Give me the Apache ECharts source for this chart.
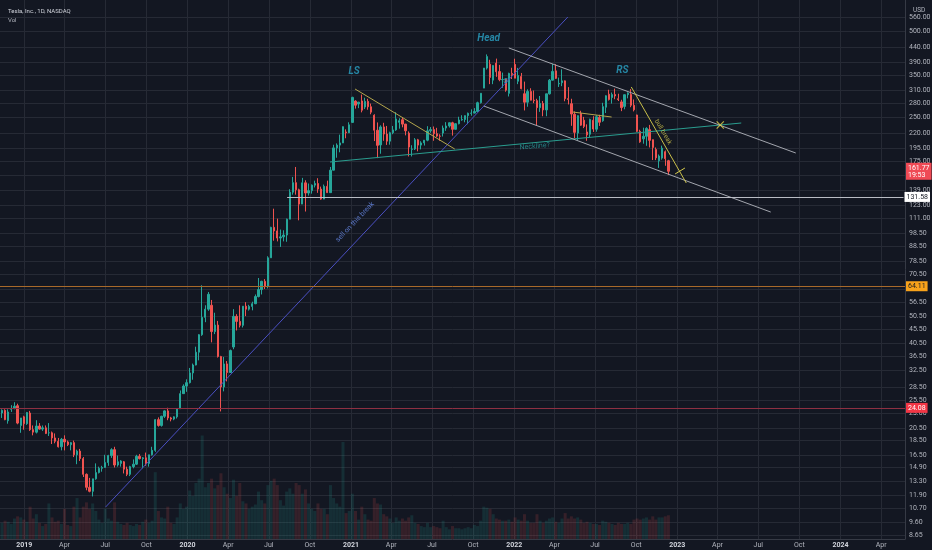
<!DOCTYPE html>
<html>
<head>
<meta charset="utf-8">
<title>TSLA</title>
<script src="https://cdn.jsdelivr.net/npm/echarts@6/dist/echarts.min.js"></script>
<style>
html, body { margin: 0; padding: 0; background: #131722; }
#main { width: 932px; height: 550px; }
</style>
</head>
<body>
<div id="main"></div>
<script>
// weekly bars (week start), split adjusted
var weeks = [
  '2018-11-12','2018-11-19','2018-11-26','2018-12-03','2018-12-10','2018-12-17','2018-12-24','2018-12-31',
  '2019-01-07','2019-01-14','2019-01-21','2019-01-28','2019-02-04','2019-02-11','2019-02-18','2019-02-25','2019-03-04','2019-03-11','2019-03-18','2019-03-25','2019-04-01','2019-04-08','2019-04-15','2019-04-22','2019-04-29','2019-05-06','2019-05-13','2019-05-20','2019-05-27','2019-06-03','2019-06-10','2019-06-17','2019-06-24','2019-07-01','2019-07-08','2019-07-15','2019-07-22','2019-07-29','2019-08-05','2019-08-12','2019-08-19','2019-08-26','2019-09-02','2019-09-09','2019-09-16','2019-09-23','2019-09-30','2019-10-07','2019-10-14','2019-10-21','2019-10-28','2019-11-04','2019-11-11','2019-11-18','2019-11-25','2019-12-02','2019-12-09','2019-12-16','2019-12-23','2019-12-30',
  '2020-01-06','2020-01-13','2020-01-20','2020-01-27','2020-02-03','2020-02-10','2020-02-17','2020-02-24','2020-03-02','2020-03-09','2020-03-16','2020-03-23','2020-03-30','2020-04-06','2020-04-13','2020-04-20','2020-04-27','2020-05-04','2020-05-11','2020-05-18','2020-05-25','2020-06-01','2020-06-08','2020-06-15','2020-06-22','2020-06-29','2020-07-06','2020-07-13','2020-07-20','2020-07-27','2020-08-03','2020-08-10','2020-08-17','2020-08-24','2020-08-31','2020-09-07','2020-09-14','2020-09-21','2020-09-28','2020-10-05','2020-10-12','2020-10-19','2020-10-26','2020-11-02','2020-11-09','2020-11-16','2020-11-23','2020-11-30','2020-12-07','2020-12-14','2020-12-21','2020-12-28',
  '2021-01-04','2021-01-11','2021-01-18','2021-01-25','2021-02-01','2021-02-08','2021-02-15','2021-02-22','2021-03-01','2021-03-08','2021-03-15','2021-03-22','2021-03-29','2021-04-05','2021-04-12','2021-04-19','2021-04-26','2021-05-03','2021-05-10','2021-05-17','2021-05-24','2021-05-31','2021-06-07','2021-06-14','2021-06-21','2021-06-28','2021-07-05','2021-07-12','2021-07-19','2021-07-26','2021-08-02','2021-08-09','2021-08-16','2021-08-23','2021-08-30','2021-09-06','2021-09-13','2021-09-20','2021-09-27','2021-10-04','2021-10-11','2021-10-18','2021-10-25','2021-11-01','2021-11-08','2021-11-15','2021-11-22','2021-11-29','2021-12-06','2021-12-13','2021-12-20','2021-12-27',
  '2022-01-03','2022-01-10','2022-01-17','2022-01-24','2022-01-31','2022-02-07','2022-02-14','2022-02-21','2022-02-28','2022-03-07','2022-03-14','2022-03-21','2022-03-28','2022-04-04','2022-04-11','2022-04-18','2022-04-25','2022-05-02','2022-05-09','2022-05-16','2022-05-23','2022-05-30','2022-06-06','2022-06-13','2022-06-20','2022-06-27','2022-07-04','2022-07-11','2022-07-18','2022-07-25','2022-08-01','2022-08-08','2022-08-15','2022-08-22','2022-08-29','2022-09-05','2022-09-12','2022-09-19','2022-09-26','2022-10-03','2022-10-10','2022-10-17','2022-10-24','2022-10-31','2022-11-07','2022-11-14','2022-11-21','2022-11-28','2022-12-05','2022-12-12'
];
var opens = [
  23.1,23.6,21.7,23.8,24.0,24.5,20.9,22.4,
  21.2,23.1,20.2,19.8,20.8,20.3,20.5,19.7,19.7,18.9,18.4,17.6,18.7,18.3,17.9,18.2,16.5,17.0,16.0,14.1,12.7,12.3,13.6,14.3,14.8,14.9,15.5,16.4,17.2,15.2,15.4,15.6,14.7,14.1,15.0,15.3,16.3,16.0,16.1,15.4,16.5,17.1,21.9,20.9,22.5,23.5,22.2,22.0,22.4,23.9,27.0,28.7,
  29.5,31.9,34.0,37.7,43.4,49.9,53.3,55.0,44.5,46.9,36.4,28.5,34.3,32.0,39.3,50.3,48.3,46.8,54.6,53.3,54.5,55.7,59.0,62.4,66.7,64.0,80.6,103.0,100.1,94.5,95.4,96.8,110.0,136.7,147.6,139.4,124.2,147.4,135.8,138.4,144.7,146.6,140.2,129.3,143.3,136.2,163.2,195.3,199.7,203.3,222.0,220.6,
  239.8,284.6,278.0,285.0,271.3,284.1,272.0,254.0,225.2,200.0,231.2,218.3,206.2,220.6,225.7,240.0,245.0,236.5,220.0,193.0,193.6,208.4,199.7,203.3,207.8,224.0,226.3,219.0,214.7,220.0,229.1,233.0,239.1,226.8,237.3,244.5,245.4,253.2,258.1,258.4,261.8,281.0,316.0,371.3,383.3,337.0,386.5,361.0,338.0,339.0,303.0,355.7,
  382.6,334.0,347.0,302.0,282.1,307.8,286.7,285.7,270.0,279.4,265.1,301.8,336.9,363.1,326.8,330.0,335.0,290.3,278.8,256.0,220.0,257.9,244.0,222.0,218.0,244.0,227.0,250.0,243.0,271.0,301.0,293.0,300.0,290.0,282.8,272.7,299.7,300.1,275.3,254.5,223.1,210.0,214.4,226.2,208.6,192.8,175.9,179.9,189.4,176.1
];
var highs = [
  23.8,23.8,23.8,24.6,25.2,24.9,22.2,22.6,
  23.3,23.5,20.9,21.8,21.3,20.9,20.9,21.3,19.9,19.6,18.9,18.9,19.3,18.5,18.3,18.5,17.2,17.3,16.2,14.2,13.7,13.6,15.4,15.0,15.1,16.5,16.5,17.4,17.6,16.4,15.8,15.7,15.0,15.1,15.9,16.5,16.6,16.2,16.8,16.5,17.6,22.0,22.3,22.6,23.6,24.1,22.4,22.5,24.0,27.7,29.1,30.3,
  33.2,34.4,39.4,43.6,64.6,55.0,61.2,57.4,51.8,48.5,36.6,36.3,35.1,38.5,53.3,51.2,55.0,54.6,56.4,55.2,56.6,60.0,68.5,67.0,67.9,81.6,103.5,119.7,110.5,101.2,100.6,110.5,140.0,154.6,167.5,140.6,153.4,150.5,146.6,145.5,150.0,153.0,143.0,145.4,150.0,167.5,200.3,202.5,217.3,232.3,226.7,240.0,
  294.8,286.6,283.0,300.1,292.6,290.0,279.0,256.0,239.7,234.2,239.0,233.0,222.5,233.0,260.3,248.0,249.7,237.0,223.0,199.5,211.3,210.0,206.0,208.0,232.6,231.0,232.0,229.5,218.0,233.7,240.3,239.5,241.0,238.0,251.0,254.0,253.5,259.5,266.3,269.0,283.3,303.5,371.7,414.5,397.0,380.0,400.7,380.9,358.0,340.0,357.7,372.3,
  400.4,371.9,357.0,333.0,313.0,315.7,310.0,290.0,296.6,285.0,302.0,340.0,384.3,383.3,344.0,367.6,336.0,318.5,290.0,262.0,253.7,263.3,250.7,236.0,247.0,252.0,254.0,255.0,280.8,298.3,311.9,305.0,314.7,302.0,287.7,299.9,305.5,313.8,288.5,255.2,226.0,229.8,230.6,235.0,208.9,196.0,185.2,198.9,191.3,177.4
];
var lows = [
  22.2,21.8,21.2,23.3,23.8,21.1,19.7,20.2,
  21.0,20.0,19.3,19.6,20.2,20.0,19.5,19.2,18.0,18.1,17.5,17.1,17.1,17.7,17.1,16.2,15.3,15.7,13.8,12.4,12.2,11.8,13.5,14.2,14.4,14.9,15.1,16.1,14.9,15.0,15.0,14.2,13.9,13.9,14.8,15.2,15.9,14.8,15.1,15.0,16.4,16.9,20.7,20.7,22.2,21.8,21.6,21.8,22.1,23.9,27.0,27.4,
  29.3,30.2,33.9,35.3,43.0,48.0,52.6,40.8,43.6,36.1,23.4,27.5,29.8,32.0,38.6,44.9,46.0,46.0,50.4,52.7,52.8,55.5,58.6,60.0,62.7,63.0,80.6,92.5,92.0,88.0,92.0,91.7,110.0,134.0,134.0,109.0,124.2,117.0,133.0,135.1,142.0,136.0,128.6,129.3,136.1,136.2,163.0,180.4,188.5,203.0,211.0,220.0,
  239.1,267.9,269.0,260.0,267.0,265.5,256.0,206.3,179.8,186.3,206.8,200.0,200.4,218.0,224.0,228.0,230.5,216.0,182.3,182.3,192.0,190.0,192.9,199.0,206.0,220.5,206.8,213.0,206.8,214.0,224.0,230.0,215.6,226.5,236.0,243.0,240.0,236.3,253.0,258.0,261.0,279.0,316.0,367.0,326.3,326.2,346.1,334.0,316.7,307.0,295.4,340.0,
  342.2,326.3,313.0,264.0,272.0,289.0,280.0,233.3,261.0,252.0,252.0,300.0,336.0,340.0,319.0,321.0,284.3,277.0,233.3,211.0,206.9,233.3,229.0,206.8,213.0,222.0,222.4,233.0,241.0,258.6,286.0,279.0,289.0,284.8,262.5,266.5,291.0,271.0,262.0,221.9,203.5,202.0,198.6,196.0,177.1,177.0,166.2,177.6,169.1,156.9
];
var closes = [
  23.6,21.9,23.3,23.8,24.4,21.3,22.2,21.2,
  23.2,20.2,19.8,20.8,20.3,20.5,19.6,19.7,18.9,18.4,17.6,18.7,18.3,17.9,18.2,16.5,17.0,16.0,14.1,12.7,12.3,13.6,14.3,14.8,14.9,15.5,16.4,17.2,15.2,15.6,15.7,14.7,14.1,15.0,15.3,16.3,16.0,16.1,15.4,16.5,17.1,21.9,20.9,22.5,23.5,22.2,22.0,22.4,23.9,27.0,28.7,29.5,
  31.9,34.0,37.7,43.4,49.9,53.3,60.1,44.5,46.9,36.4,28.5,34.3,32.0,38.2,50.3,48.3,46.8,54.6,53.3,54.5,55.7,59.0,62.4,66.7,64.0,80.6,103.0,100.1,94.5,95.4,96.8,110.0,136.7,147.6,139.4,124.2,147.4,135.8,138.4,144.7,146.6,140.2,129.3,143.3,136.2,163.2,195.3,199.7,203.3,231.7,220.6,235.2,
  293.3,275.4,282.2,264.5,284.1,272.0,260.4,225.2,199.3,231.2,218.3,206.2,220.6,225.7,246.6,243.1,236.5,224.1,196.6,193.6,208.4,199.7,203.3,207.8,224.0,226.3,219.0,214.7,214.5,229.1,233.0,239.1,226.8,237.3,244.5,245.4,253.2,258.1,258.4,261.8,281.0,303.2,371.3,407.4,344.5,379.0,360.6,338.3,339.0,310.9,355.7,352.3,
  342.3,349.9,314.6,282.1,307.8,286.7,285.7,270.0,279.4,265.1,301.8,336.9,361.5,341.8,328.3,335.0,290.3,288.6,256.5,221.3,253.2,234.5,232.2,216.8,245.7,227.3,250.8,240.1,272.2,297.2,288.2,300.0,296.7,288.1,270.2,299.7,303.4,275.3,265.3,223.1,205.0,214.4,228.5,207.5,196.0,180.2,182.9,194.9,179.1,161.77
];
var volumes = [
  150,170,160,140,190,210,200,180,
  160,300,190,230,150,120,140,330,200,160,170,140,280,130,120,300,380,200,300,340,280,330,260,180,150,280,190,170,340,160,140,130,150,130,120,140,130,160,180,150,170,620,260,200,190,300,150,140,200,330,280,300,
  450,400,520,560,960,480,520,560,470,500,610,480,420,380,550,400,520,350,330,280,300,320,440,360,330,500,540,560,500,360,310,440,470,420,520,500,420,460,330,280,260,330,280,280,230,500,380,330,300,900,240,260,
  420,260,180,300,230,180,170,380,330,320,230,210,190,150,200,170,190,170,200,220,150,140,120,110,150,110,120,110,100,170,110,90,120,100,100,90,100,110,100,130,120,170,300,290,280,230,190,180,170,170,180,160,
  200,180,170,230,170,150,150,230,170,150,170,190,200,160,150,190,240,190,210,190,200,180,150,160,150,140,140,130,170,160,150,140,130,150,140,140,150,140,180,190,180,190,200,180,210,180,200,200,210,220
];

// price scale labels (right axis)
var yTicks = [560, 500, 440, 390, 350, 310, 280, 250, 220, 195, 175, 156.5, 139, 123, 111, 98.5, 88.5, 78.5, 70.5, 62.5,
  56.5, 50.5, 45.5, 40.5, 36.5, 32.5, 28.5, 25.5, 23, 20.5, 18.5, 16.5, 14.9, 13.3, 11.9, 10.7, 9.6, 8.65];
// time scale labels
var xTickDates = ['2019-01-01','2019-04-01','2019-07-01','2019-10-01','2020-01-01','2020-04-01','2020-07-01','2020-10-01',
  '2021-01-01','2021-04-01','2021-07-01','2021-10-01','2022-01-01','2022-04-01','2022-07-01','2022-10-01',
  '2023-01-01','2023-04-01','2023-07-01','2023-10-01','2024-01-01','2024-04-01'];
var xTickLabels = ['2019','Apr','Jul','Oct','2020','Apr','Jul','Oct','2021','Apr','Jul','Oct','2022','Apr','Jul','Oct',
  '2023','Apr','Jul','Oct','2024','Apr'];

// drawings [date, price]
var sellLine = [['2019-07-02', 10.84], ['2022-05-01', 560.2]];
var neckline = [['2020-11-15', 174.3], ['2023-05-24', 238.6]];
var shoulderLine = [['2021-01-10', 313.8], ['2021-08-21', 193.5]];
var channelTop = [['2021-12-20', 436.6], ['2023-09-23', 187.4]];
var channelBottom = [['2021-10-25', 273.6], ['2023-07-29', 116.5]];
var rangeLine = [['2022-05-12', 260.7], ['2022-08-07', 250.4]];
var bullBreak = [['2022-09-20', 318.9], ['2023-01-21', 147.2]];
var hookLine = [['2022-12-27', 158.3], ['2023-01-18', 166.1]];
var targetMark = [['2023-04-07', 234.8]];
var supportLevel = 131.58, supportFrom = '2020-08-11';
var orangeLevel = 64.11;
var redLevel = 24.08;
var lastPrice = 161.77;

var xMin = '2018-11-11', xMax = '2024-05-21';
var yMin = 8.377, yMax = 642.4;

var upColor = '#26a69a', downColor = '#ef5350';
var gridColor = '#262a35';
var textColor = '#b2b5be';
var font = 'Roboto';

var candles = [], volBars = [];
for (var i = 0; i < weeks.length; i++) {
	candles.push([weeks[i], opens[i], closes[i], lows[i], highs[i]]);
	volBars.push({
		value : [weeks[i], volumes[i]],
		itemStyle : {
			color : closes[i] >= opens[i] ? 'rgba(38,166,154,0.16)' : 'rgba(239,83,80,0.16)'
		}
	});
}

var gridMarks = [];
for (var i = 0; i < yTicks.length; i++) {
	gridMarks.push({
		yAxis : yTicks[i],
		label : { position : 'end', distance : 4, formatter : yTicks[i].toFixed(2) }
	});
}
for (var i = 0; i < xTickDates.length; i++) {
	var isYear = xTickLabels[i].length == 4;
	gridMarks.push({
		xAxis : xTickDates[i],
		label : {
			position : 'start',
			distance : 3,
			formatter : xTickLabels[i],
			fontWeight : isYear ? 'bold' : 'normal',
			color : isYear ? '#d1d4dc' : textColor
		}
	});
}

function drawLine(data, color, width) {
	return {
		type : 'line',
		data : data,
		symbol : 'none',
		silent : true,
		z : 4,
		lineStyle : { color : color, width : width || 1 }
	};
}
function note(text, at, color, size, rotate, italic) {
	return {
		type : 'scatter',
		data : [at],
		symbolSize : 0,
		silent : true,
		z : 6,
		label : {
			show : true,
			position : 'inside',
			formatter : text,
			color : color,
			fontSize : size,
			fontFamily : font,
			fontStyle : italic ? 'italic' : 'normal',
			fontWeight : italic ? 'bold' : 'normal',
			rotate : rotate || 0
		}
	};
}

var option = {
	backgroundColor : '#131722',
	animation : false,
	title : [ {
		text : 'Tesla, Inc., 1D, NASDAQ',
		left : 3, top : 3,
		textStyle : { color : '#d1d4dc', fontSize : 6, fontWeight : 'normal', fontFamily : font }
	}, {
		text : 'Vol',
		left : 3, top : 12,
		textStyle : { color : textColor, fontSize : 6, fontWeight : 'normal', fontFamily : font }
	}, {
		text : 'USD',
		left : 908, top : 2,
		textStyle : { color : textColor, fontSize : 6.5, fontWeight : 'normal', fontFamily : font }
	} ],
	grid : {
		left : 0,
		right : 27,
		top : 0,
		bottom : 11
	},
	xAxis : {
		type : 'time',
		min : xMin,
		max : xMax,
		axisLabel : { show : false },
		axisTick : { show : false },
		splitLine : { show : false },
		axisLine : { show : true, lineStyle : { color : '#363a45' } }
	},
	yAxis : [ {
		type : 'log',
		logBase : 10,
		min : yMin,
		max : yMax,
		position : 'right',
		axisLabel : { show : false },
		axisTick : { show : false },
		splitLine : { show : false },
		axisLine : { show : true, lineStyle : { color : '#363a45' } }
	}, {
		type : 'value',
		min : 0,
		max : 5000,
		show : false
	} ],
	series : [ {
		// grid lines and scale labels
		type : 'line',
		data : [],
		silent : true,
		markLine : {
			z : 0,
			silent : true,
			symbol : [ 'none', 'none' ],
			animation : false,
			lineStyle : { color : gridColor, width : 1, type : 'solid' },
			label : { color : textColor, fontSize : 7, fontFamily : font },
			data : gridMarks
		}
	}, {
		type : 'bar',
		yAxisIndex : 1,
		data : volBars,
		barWidth : 3,
		silent : true,
		z : 1
	}, {
		type : 'candlestick',
		data : candles,
		encode : { x : 0, y : [ 1, 2, 3, 4 ] },
		barWidth : 1.8,
		silent : true,
		z : 3,
		itemStyle : {
			color : upColor,
			color0 : downColor,
			borderColor : upColor,
			borderColor0 : downColor,
			borderWidth : 1
		}
	},
	drawLine(sellLine, '#4a4fc2'),
	drawLine(neckline, '#2a9d8f'),
	drawLine(shoulderLine, '#b3a54c'),
	drawLine(channelTop, '#a3a6ae'),
	drawLine(channelBottom, '#a3a6ae'),
	drawLine(rangeLine, '#b3a54c'),
	drawLine(bullBreak, '#c9bf4a'),
	drawLine(hookLine, '#d6cb4c'),
	{
		type : 'scatter',
		data : targetMark,
		symbol : 'path://M1,0L5,4L9,0L10,1L6,5L10,9L9,10L5,6L1,10L0,9L4,5L0,1Z',
		symbolSize : 8,
		itemStyle : { color : '#e3d64a' },
		silent : true,
		z : 6
	}, {
		// price levels and tags
		type : 'line',
		data : [],
		silent : true,
		markLine : {
			z : 5,
			silent : true,
			symbol : [ 'none', 'none' ],
			animation : false,
			label : { position : 'end', distance : 1, fontSize : 7, fontFamily : font, padding : [ 2, 2, 1, 2 ] },
			data : [ {
				yAxis : orangeLevel,
				lineStyle : { color : '#a8692a', width : 1, type : 'solid' },
				label : { formatter : orangeLevel.toFixed(2), backgroundColor : '#f7a21b', color : '#131722' }
			}, {
				yAxis : redLevel,
				lineStyle : { color : '#8e3042', width : 1, type : 'solid' },
				label : { formatter : redLevel.toFixed(2), backgroundColor : '#f23645', color : '#ffffff' }
			}, [ {
				coord : [ supportFrom, supportLevel ],
				lineStyle : { color : '#b9bcc4', width : 1.2, type : 'solid' },
				label : { formatter : supportLevel.toFixed(2), backgroundColor : '#ffffff', color : '#131722' }
			}, {
				coord : [ xMax, supportLevel ]
			} ], {
				yAxis : lastPrice,
				lineStyle : { color : 'rgba(0,0,0,0)', width : 0 },
				label : { formatter : lastPrice.toFixed(2) + '\n19:53', backgroundColor : '#ef4a55', color : '#ffffff', lineHeight : 7 }
			} ]
		}
	},
	note('LS', ['2021-01-08', 362.6], '#2ba3c6', 10, 0, true),
	note('Head', ['2021-11-05', 469.3], '#2ba3c6', 10, 0, true),
	note('RS', ['2022-08-31', 365.6], '#2ba3c6', 10, 0, true),
	note('S', ['2021-12-13', 334.6], '#2ba3c6', 7, 0, true),
	note('Neckline?', ['2022-02-16', 197.5], '#2a9d9d', 7, 5),
	note('sell on this break', ['2021-01-10', 107.5], '#6c8ff0', 7, 46.6),
	note('bull break', ['2022-11-30', 221.9], '#d6cb4c', 6.5, -60)
	]
};

var myChart = echarts.init(document.getElementById('main'));
myChart.setOption(option);
</script>
</body>
</html>
